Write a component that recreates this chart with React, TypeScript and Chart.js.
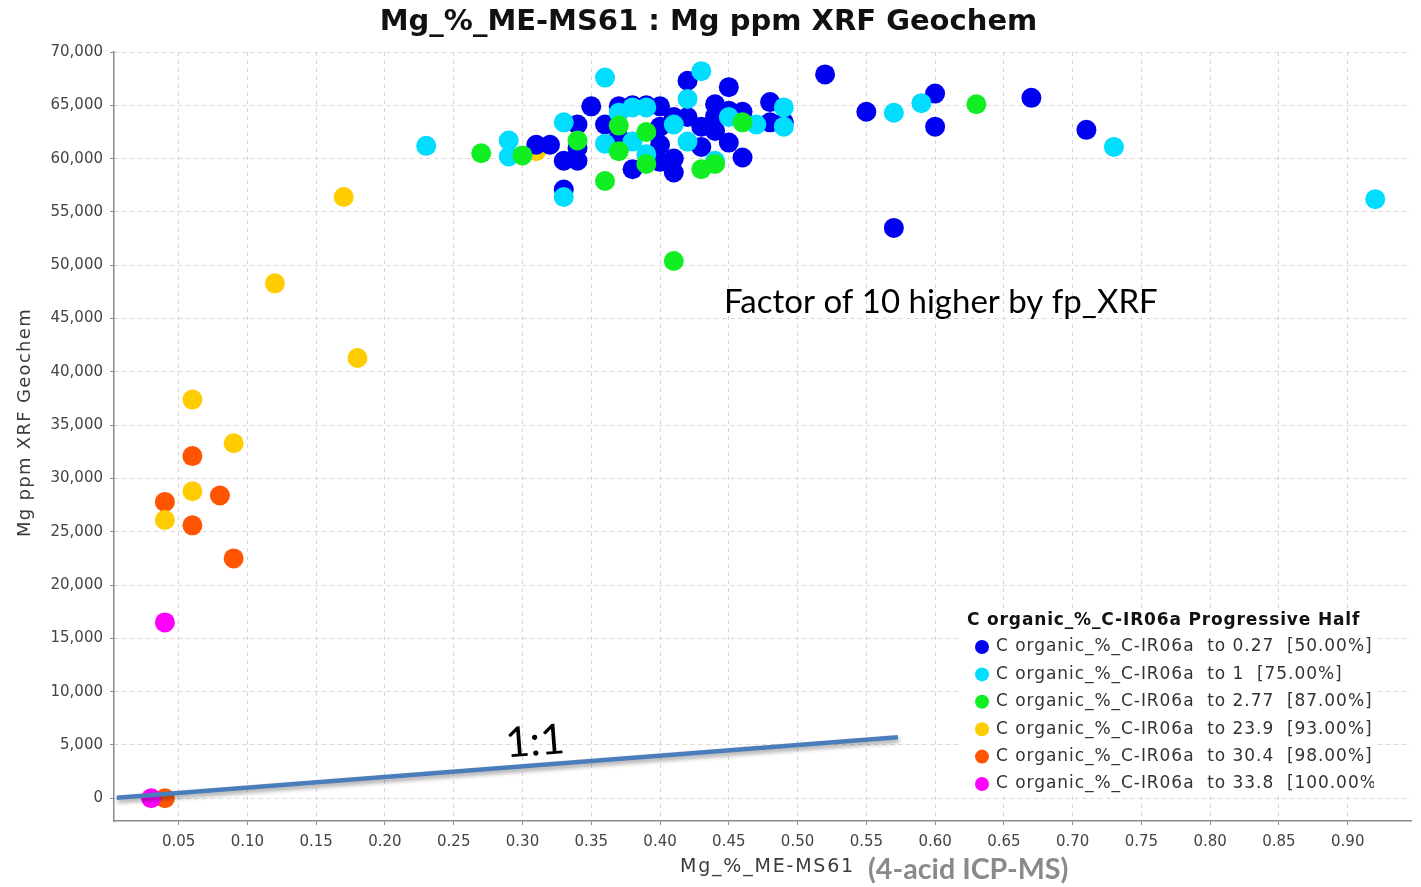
import React, { useEffect, useRef } from "react";
import { Chart, registerables } from "chart.js";

Chart.register(...registerables);

// Axis ranges and tick values
const X_MIN = 0.003;
const X_MAX = 0.946;
const Y_MIN = -2130;
const Y_MAX = 70000;
const xTickValues = [0.05, 0.1, 0.15, 0.2, 0.25, 0.3, 0.35, 0.4, 0.45, 0.5, 0.55, 0.6, 0.65, 0.7, 0.75, 0.8, 0.85, 0.9];
const yTickValues = [0, 5000, 10000, 15000, 20000, 25000, 30000, 35000, 40000, 45000, 50000, 55000, 60000, 65000, 70000];

const CHART_TITLE = "Mg_%_ME-MS61 : Mg ppm XRF Geochem";
const X_TITLE = "Mg_%_ME-MS61";
const X_NOTE = "(4-acid ICP-MS)";
const Y_TITLE = "Mg ppm XRF Geochem";
const FACTOR_NOTE = "Factor of 10 higher by fp_XRF";
const ONE_TO_ONE_NOTE = "1:1";
const LEGEND_TITLE = "C organic_%_C-IR06a Progressive Half";

const seriesLabels = [
  "C organic_%_C-IR06a  to 0.27  [50.00%]",
  "C organic_%_C-IR06a  to 1  [75.00%]",
  "C organic_%_C-IR06a  to 2.77  [87.00%]",
  "C organic_%_C-IR06a  to 23.9  [93.00%]",
  "C organic_%_C-IR06a  to 30.4  [98.00%]",
  "C organic_%_C-IR06a  to 33.8  [100.00%]",
];
const seriesColors = ["#0000f0", "#00ddff", "#11ee22", "#ffcc00", "#ff5500", "#ff00ff"];
// drawing order: lower numbers are painted on top
const seriesOrder = [4, 3, 2, 6, 7, 5];

// C organic up to 0.27
const blueX = [0.31, 0.32, 0.33, 0.34, 0.34, 0.34, 0.35, 0.33, 0.36, 0.37, 0.38, 0.40, 0.42, 0.40, 0.41, 0.40, 0.45, 0.44, 0.45, 0.42, 0.44, 0.43, 0.45, 0.46, 0.46, 0.48, 0.48, 0.49, 0.41, 0.40, 0.38, 0.39, 0.37, 0.41, 0.44, 0.43, 0.52, 0.55, 0.60, 0.60, 0.57, 0.67, 0.71];
const blueY = [61300, 61300, 59800, 59800, 61000, 63200, 64900, 57100, 63200, 64900, 59000, 64900, 67300, 61300, 58700, 59700, 66700, 65100, 64500, 63900, 62600, 61100, 61500, 60100, 64400, 65300, 63400, 63400, 63900, 63000, 65000, 65000, 62000, 60000, 64000, 63000, 67900, 64400, 66100, 63000, 53500, 65700, 62700];

// C organic up to 1
const cyanX = [0.23, 0.29, 0.29, 0.33, 0.33, 0.36, 0.36, 0.43, 0.42, 0.38, 0.39, 0.38, 0.41, 0.42, 0.45, 0.47, 0.49, 0.49, 0.39, 0.37, 0.44, 0.57, 0.59, 0.73, 0.92];
const cyanY = [61200, 61700, 60200, 63400, 56400, 67600, 61400, 68200, 65600, 64800, 64800, 61600, 63200, 61600, 63900, 63200, 64800, 63000, 60400, 64300, 59800, 64300, 65200, 61100, 56200];

// C organic up to 2.77
const greenX = [0.27, 0.30, 0.34, 0.36, 0.37, 0.37, 0.39, 0.39, 0.43, 0.44, 0.46, 0.41, 0.63];
const greenY = [60500, 60300, 61700, 57900, 63100, 60700, 62500, 59500, 59000, 59500, 63400, 50400, 65100];

// C organic up to 23.9
const yellowX = [0.04, 0.06, 0.06, 0.09, 0.12, 0.17, 0.18, 0.31];
const yellowY = [26100, 28800, 37400, 33300, 48300, 56400, 41300, 60700];

// C organic up to 30.4
const orangeX = [0.04, 0.06, 0.06, 0.08, 0.09, 0.04];
const orangeY = [27800, 32100, 25600, 28400, 22500, 0];

// C organic up to 33.8
const magentaX = [0.03, 0.04];
const magentaY = [0, 16500];

// 1:1 reference line (1 % = 10,000 ppm)
const lineX = [0.005, 0.573];
const lineY = [50, 5730];

const seriesX = [blueX, cyanX, greenX, yellowX, orangeX, magentaX];
const seriesY = [blueY, cyanY, greenY, yellowY, orangeY, magentaY];

const FONT = "'DejaVu Sans', 'Liberation Sans', sans-serif";
const NOTE_FONT = "Lato, 'Open Sans', sans-serif";

const toPoints = (xs: number[], ys: number[]) => xs.map((x, i) => ({ x, y: ys[i] }));

const lineShadowPlugin = {
  id: "lineShadow",
  beforeDatasetDraw(chart: any, args: any) {
    if (args.meta._dataset && args.meta._dataset.label === "1:1") {
      const ctx = chart.ctx;
      ctx.save();
      ctx.shadowColor = "rgba(0,0,0,0.35)";
      ctx.shadowBlur = 4;
      ctx.shadowOffsetX = 1;
      ctx.shadowOffsetY = 3;
    }
  },
  afterDatasetDraw(chart: any, args: any) {
    if (args.meta._dataset && args.meta._dataset.label === "1:1") {
      chart.ctx.restore();
    }
  },
};

const textPlugin = {
  id: "chartText",
  afterDraw(chart: any) {
    const { ctx, chartArea: ca, scales } = chart;
    const xs = scales.x;
    const ys = scales.y;
    ctx.save();

    // x-axis title
    ctx.textBaseline = "middle";
    ctx.textAlign = "left";
    ctx.fillStyle = "#3c3c3c";
    ctx.font = `19px ${FONT}`;
    ctx.letterSpacing = "1.8px";
    const xtW = ctx.measureText(X_TITLE).width;
    const xtLeft = (ca.left + ca.right) / 2 + 5 - xtW / 2;
    ctx.fillText(X_TITLE, xtLeft, ca.bottom + 46);
    ctx.letterSpacing = "0px";
    ctx.fillStyle = "#8a8a8a";
    ctx.font = `bold 28.7px ${NOTE_FONT}`;
    ctx.fillText(X_NOTE, xtLeft + xtW + 13, ca.bottom + 49);

    // y-axis title
    ctx.save();
    ctx.translate(25, (ca.top + ca.bottom) / 2 - 14);
    ctx.rotate(-Math.PI / 2);
    ctx.textAlign = "center";
    ctx.fillStyle = "#3c3c3c";
    ctx.font = `18px ${FONT}`;
    ctx.letterSpacing = "1.3px";
    ctx.fillText(Y_TITLE, 0, 0);
    ctx.restore();

    // annotations
    ctx.fillStyle = "#000";
    ctx.textAlign = "left";
    ctx.letterSpacing = "0px";
    ctx.font = `33px ${NOTE_FONT}`;
    ctx.fillText(FACTOR_NOTE, xs.getPixelForValue(0.4465), ys.getPixelForValue(46500));

    const x0 = xs.getPixelForValue(lineX[0]);
    const y0 = ys.getPixelForValue(lineY[0]);
    const x1 = xs.getPixelForValue(lineX[1]);
    const y1 = ys.getPixelForValue(lineY[1]);
    const ang = Math.atan2(y1 - y0, x1 - x0);
    ctx.save();
    ctx.translate(xs.getPixelForValue(0.309), ys.getPixelForValue(5300));
    ctx.rotate(ang);
    ctx.textAlign = "center";
    ctx.font = `42px ${NOTE_FONT}`;
    ctx.fillText(ONE_TO_ONE_NOTE, 0, 0);
    ctx.restore();

    // legend inside the plot, lower right
    const boxL = ca.right - 452;
    const boxR = ca.right - 37;
    const boxT = ca.bottom - 213;
    const boxB = ca.bottom - 26;
    ctx.fillStyle = "#ffffff";
    ctx.fillRect(boxL, boxT, boxR - boxL, boxB - boxT);
    ctx.beginPath();
    ctx.rect(boxL, boxT, boxR - boxL, boxB - boxT);
    ctx.clip();
    ctx.fillStyle = "#111";
    ctx.font = `bold 17px ${FONT}`;
    ctx.letterSpacing = "0.85px";
    ctx.fillText(LEGEND_TITLE, boxL + 8, boxT + 13);
    ctx.font = `17px ${FONT}`;
    ctx.letterSpacing = "0.95px";
    seriesLabels.forEach((lab, i) => {
      const cy = boxT + 39 + i * 27.4;
      ctx.fillStyle = seriesColors[i];
      ctx.beginPath();
      ctx.arc(boxL + 23, cy, 7, 0, Math.PI * 2);
      ctx.fill();
      ctx.fillStyle = "#333";
      ctx.fillText(lab, boxL + 37, cy);
    });
    ctx.restore();
  },
};

export default function App() {
  const canvasRef = useRef<HTMLCanvasElement | null>(null);

  useEffect(() => {
    if (!canvasRef.current) return;
    const datasets: any[] = seriesLabels.map((label, i) => ({
      type: "scatter",
      label,
      data: toPoints(seriesX[i], seriesY[i]),
      backgroundColor: seriesColors[i],
      borderWidth: 0,
      pointRadius: 10,
      pointHoverRadius: 10,
      order: seriesOrder[i],
    }));
    datasets.push({
      type: "scatter",
      label: "1:1",
      data: toPoints(lineX, lineY),
      showLine: true,
      borderColor: "#4a7ebb",
      borderWidth: 4.5,
      pointRadius: 0,
      order: 0,
    });

    const chart = new Chart(canvasRef.current, {
      type: "scatter",
      data: { datasets },
      options: {
        animation: false,
        responsive: false,
        events: [],
        layout: { padding: { left: 0, right: 4, top: 0, bottom: 0 } },
        plugins: {
          legend: { display: false },
          tooltip: { enabled: false },
          title: {
            display: true,
            text: CHART_TITLE,
            color: "#111",
            font: { family: FONT, size: 29, weight: "bold" },
            padding: { top: 5, bottom: 12.2 },
          },
        },
        scales: {
          x: {
            type: "linear",
            min: X_MIN,
            max: X_MAX,
            afterFit: (s: any) => {
              s.height = 66;
            },
            afterBuildTicks: (s: any) => {
              s.ticks = xTickValues.map((value) => ({ value }));
            },
            ticks: {
              padding: 8,
              color: "#444",
              font: { family: FONT, size: 15 },
              callback: (v: any) => Number(v).toFixed(2),
            },
            grid: {
              color: "#d6d6d6",
              tickColor: "#8a8a8a",
              tickLength: 4,
              tickBorderDash: [],
            },
            border: { color: "#8a8a8a", width: 1.5, dash: [4, 4] },
          },
          y: {
            type: "linear",
            min: Y_MIN,
            max: Y_MAX,
            afterFit: (s: any) => {
              s.width = 114;
            },
            afterBuildTicks: (s: any) => {
              s.ticks = yTickValues.map((value) => ({ value }));
            },
            ticks: {
              padding: 7,
              color: "#444",
              font: { family: FONT, size: 15 },
              callback: (v: any) => Number(v).toLocaleString("en-US"),
            },
            grid: {
              color: "#d6d6d6",
              tickColor: "#8a8a8a",
              tickLength: 4,
              tickBorderDash: [],
            },
            border: { color: "#8a8a8a", width: 1.5, dash: [4, 4] },
          },
        },
      },
      plugins: [lineShadowPlugin, textPlugin],
    } as any);

    return () => chart.destroy();
  }, []);

  return (
    <div style={{ position: "absolute", left: 0, top: 0, width: 1421, height: 887, background: "#fff" }}>
      <canvas ref={canvasRef} width={1421} height={887} style={{ display: "block" }} />
    </div>
  );
}
